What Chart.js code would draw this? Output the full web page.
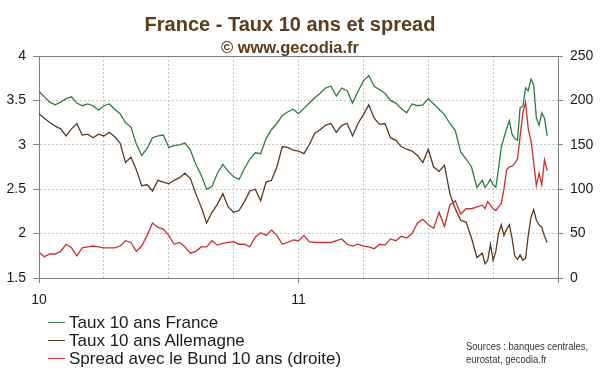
<!DOCTYPE html>
<html>
<head>
<meta charset="utf-8">
<script src="https://cdn.jsdelivr.net/npm/chart.js@4.4.0/dist/chart.umd.min.js"></script>
<style>
  body { margin: 0; width: 600px; height: 372px; overflow: hidden; background: #fff; position: relative;
         font-family: "Liberation Sans", Arial, sans-serif; }
  #c { position: absolute; left: 0; top: 0; }
  .title { position: absolute; left: 0; width: 580px; text-align: center; color: #5b3b1d; font-weight: bold; }
  #t1 { top: 14px; font-size: 20px; line-height: 20px; }
  #t2 { top: 39px; font-size: 16.5px; line-height: 17px; }
  #legend { position: absolute; left: 48px; top: 314px; font-size: 17px; line-height: 18px; color: #1a1a1a; }
  #legend .sw { display: inline-block; width: 17px; height: 0; border-top: 1.5px solid; vertical-align: 5px; margin-right: 4px; }
  #src { position: absolute; left: 466px; top: 340px; font-size: 11.5px; line-height: 12.5px; color: #333;
         transform: scaleX(0.82); transform-origin: 0 0; white-space: nowrap; }
</style>
</head>
<body>
<canvas id="c" width="600" height="372"></canvas>
<div class="title" id="t1">France - Taux 10 ans et spread</div>
<div class="title" id="t2">© www.gecodia.fr</div>
<div id="legend"></div>
<div id="src">Sources : banques centrales,<br>eurostat, gecodia.fr</div>
<script>
// ── DATA ───────────────────────────────────────────────────────
// x = months since Jan 2010 (weekly, then every ~4 days for the last weeks)
const months = [];
for (let i = 0; i <= 82; i++) months.push(i / 4);
for (let k = 1; k <= 24; k++) months.push(20.5 + k / 8);

const yearTicks = { 0: '10', 12: '11' };

const tauxFrance = [
  3.60, 3.54, 3.48, 3.45, 3.48, 3.52, 3.54, 3.47, 3.44, 3.46,
  3.44, 3.39, 3.44, 3.46, 3.40, 3.35, 3.25, 3.20, 3.01, 2.88,
  2.96, 3.08, 3.10, 3.11, 2.97, 2.99, 3.00, 3.02, 2.94, 2.78,
  2.66, 2.50, 2.53, 2.68, 2.78, 2.70, 2.64, 2.61, 2.73, 2.84,
  2.91, 2.90, 3.07, 3.17, 3.24, 3.33, 3.37, 3.40, 3.35, 3.41,
  3.47, 3.53, 3.58, 3.64, 3.66, 3.55, 3.64, 3.61, 3.47, 3.60,
  3.72, 3.78, 3.66, 3.62, 3.58, 3.50, 3.47, 3.41, 3.36, 3.46,
  3.44, 3.45, 3.52, 3.46, 3.40, 3.34, 3.24, 3.16, 2.92, 2.84,
  2.75, 2.52, 2.60,
  2.52, 2.56, 2.61, 2.55, 2.52, 2.73, 2.97, 3.08, 3.18, 3.27,
  3.12, 3.07, 3.05, 3.42, 3.43, 3.64, 3.61, 3.74, 3.68, 3.30,
  3.22, 3.36, 3.30, 3.10
];

const tauxAllemagne = [
  3.35, 3.30, 3.25, 3.21, 3.18, 3.10, 3.18, 3.24, 3.11, 3.12,
  3.08, 3.12, 3.10, 3.14, 3.09, 3.02, 2.80, 2.86, 2.72, 2.54,
  2.55, 2.48, 2.60, 2.58, 2.56, 2.60, 2.63, 2.68, 2.62, 2.45,
  2.30, 2.12, 2.24, 2.33, 2.45, 2.30, 2.24, 2.26, 2.36, 2.48,
  2.50, 2.37, 2.58, 2.60, 2.75, 2.98, 2.97, 2.94, 2.93, 2.90,
  3.00, 3.13, 3.17, 3.22, 3.24, 3.14, 3.22, 3.24, 3.10, 3.24,
  3.34, 3.45, 3.30, 3.23, 3.24, 3.08, 3.05, 2.98, 2.95, 2.93,
  2.88, 2.80, 2.95, 2.75, 2.70, 2.77, 2.45, 2.28, 2.15, 2.13,
  1.95, 1.73, 1.78,
  1.66, 1.70, 1.88, 1.70, 1.80, 2.00, 2.10, 1.98, 2.05, 2.10,
  1.95, 1.75, 1.71, 1.76, 1.70, 1.72, 1.98, 2.18, 2.27, 2.15,
  2.10, 2.07, 1.97, 1.90
];

const spreadBund = [
  29, 24, 27, 27, 30, 38, 34, 25, 34, 35,
  36, 35, 34, 34, 34, 36, 42, 40, 30, 36,
  48, 62, 57, 55, 48, 38, 40, 35, 28, 30,
  35, 35, 42, 37, 39, 40, 41, 38, 38, 35,
  46, 51, 48, 54, 48, 38, 40, 43, 42, 48,
  41, 40, 40, 40, 40, 42, 44, 38, 36, 38,
  36, 35, 33, 38, 37, 44, 42, 47, 45, 50,
  62, 66, 60, 56, 74, 58, 82, 87, 72, 78,
  78, 80, 82,
  78, 86, 82, 78, 76, 80, 84, 100, 122, 125,
  126, 129, 134, 160, 186, 198, 168, 155, 130, 104,
  118, 105, 133, 121
];

const SERIES = [
  { label: 'Taux 10 ans France', data: tauxFrance, color: '#2e7d40', axis: 'y', order: 2 },
  { label: 'Taux 10 ans Allemagne', data: tauxAllemagne, color: '#5a3a1e', axis: 'y', order: 1 },
  { label: 'Spread avec le Bund 10 ans (droite)', data: spreadBund, color: '#cc2f2f', axis: 'y1', order: 0 }
];

// ── CHART ──────────────────────────────────────────────────────
const FONT = { family: '"Liberation Sans", Arial, sans-serif', size: 14 };
const GRID = '#c4c4c4', AXIS = '#808080';

const frame = {
  id: 'frame',
  beforeDatasetsDraw(chart) {
    const { ctx, chartArea: a } = chart;
    ctx.save();
    ctx.strokeStyle = AXIS; ctx.lineWidth = 1;
    ctx.strokeRect(Math.round(a.left) + 0.5, Math.round(a.top) + 0.5, Math.round(a.right - a.left), Math.round(a.bottom - a.top));
    ctx.restore();
  }
};

new Chart(document.getElementById('c'), {
  type: 'line',
  data: {
    datasets: SERIES.map(s => ({
      label: s.label,
      data: s.data.map((v, i) => ({ x: months[i], y: v })),
      borderColor: s.color, borderWidth: 1.3, pointRadius: 0, tension: 0,
      yAxisID: s.axis, order: s.order
    }))
  },
  options: {
    responsive: false, animation: false, devicePixelRatio: 1,
    layout: { padding: { top: 56, left: 0, right: 0, bottom: 0 } },
    plugins: { legend: { display: false }, tooltip: { enabled: false } },
    scales: {
      x: {
        type: 'linear', min: 0, max: 24,
        afterFit: s => { s.height = 94; },
        afterBuildTicks: s => { s.ticks = [0, 3, 6, 9, 12, 15, 18, 21, 24].map(v => ({ value: v })); },
        grid: { color: GRID, tickLength: 5, tickBorderDash: [],
                tickColor: c => (c.tick && c.tick.value % 12 === 0) ? AXIS : 'rgba(0,0,0,0)' },
        border: { color: AXIS, dash: [2, 2] },
        ticks: { color: '#1a1a1a', font: FONT, padding: 9, maxRotation: 0, autoSkip: false,
                 callback: v => yearTicks[v] || '' }
      },
      y: {
        position: 'left', min: 1.5, max: 4,
        afterFit: s => { s.width = 39; },
        grid: { color: GRID, tickColor: AXIS, tickLength: 6, tickBorderDash: [] },
        border: { color: AXIS, dash: [2, 2] },
        ticks: { stepSize: 0.5, color: '#1a1a1a', font: FONT, padding: 7, callback: v => String(v) }
      },
      y1: {
        position: 'right', min: 0, max: 250,
        afterFit: s => { s.width = 42; },
        grid: { drawOnChartArea: false, tickColor: AXIS, tickLength: 5 },
        border: { color: AXIS },
        ticks: { stepSize: 50, color: '#1a1a1a', font: FONT, padding: 7 }
      }
    }
  },
  plugins: [frame]
});

// ── LEGEND ─────────────────────────────────────────────────────
document.getElementById('legend').innerHTML = SERIES.map(s =>
  `<div><span class="sw" style="border-color:${s.color}"></span>${s.label}</div>`
).join('');
</script>
</body>
</html>
